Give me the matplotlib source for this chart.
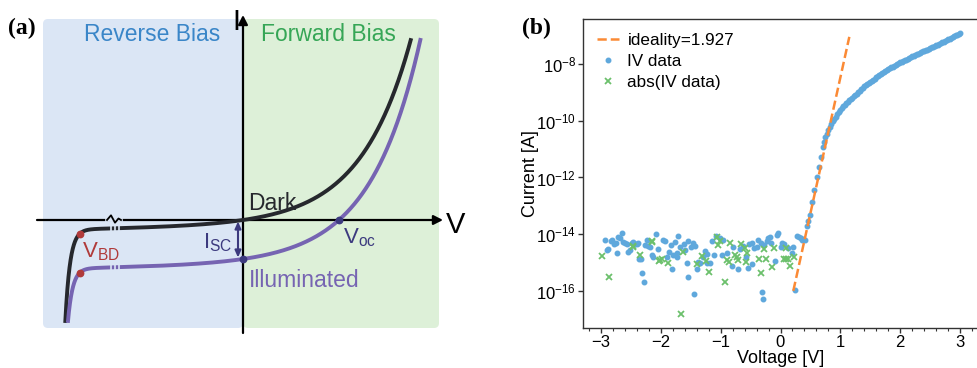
import matplotlib
matplotlib.use("Agg")

import numpy as np
import matplotlib.pyplot as plt
from matplotlib.patches import FancyBboxPatch
from matplotlib.ticker import MultipleLocator, NullLocator

plt.rcParams['font.family'] = ['Liberation Sans', 'DejaVu Sans']
plt.rcParams['mathtext.default'] = 'regular'

# ---------------------------------------------------------------------------
# panel (a): schematic diode curves (arbitrary units)
# ---------------------------------------------------------------------------
I_SAT = 6.4          # saturation current of the schematic diode
V_THERMAL = 50.0     # exponential scale of the forward branch
G_SHUNT = 0.0187     # small reverse slope
V_BD = -163.0        # breakdown onset
BD_AMP = 4.3
BD_WIDTH = 4.8
I_SC = 39.0          # photo current (illuminated offset)
I_TOP = 182.0
I_BOTTOM = -103.0
BREAK_V = [-132.5, -128.5, -124.5]

# ---------------------------------------------------------------------------
# panel (b): measured IV data, log10 of current
# ---------------------------------------------------------------------------
IDEALITY = 1.927
FIT_V = [0.214, 1.15]
FIT_LOG_I = [-16.0, -7.04]

# positive current, noise floor and turn-on (blue dots)
IV_V = [-2.935, -2.907, -2.879, -2.834, -2.812, -2.779, -2.756, -2.740, -2.712, -2.684,
        -2.656, -2.628, -2.600, -2.572, -2.545, -2.517, -2.489, -2.461, -2.433, -2.405,
        -2.389, -2.366, -2.333, -2.310, -2.288, -2.266, -2.238, -2.210, -2.182, -2.154,
        -2.127, -2.088, -2.054, -1.959, -1.932, -1.904, -1.865, -1.831, -1.809, -1.792,
        -1.764, -1.737, -1.725, -1.709, -1.681, -1.614, -1.597, -1.569, -1.552, -1.541,
        -1.502, -1.469, -1.447, -1.430, -1.391, -1.374, -1.346, -1.302, -1.263, -1.235,
        -1.224, -1.179, -1.151, -1.112, -1.079, -1.012, -0.984, -0.956, -0.889, -0.817,
        -0.789, -0.705, -0.677, -0.622, -0.577, -0.538, -0.521, -0.483, -0.471, -0.438,
        -0.399, -0.371, -0.326, -0.315, -0.287, -0.271, -0.232, -0.204, -0.176, -0.159,
        -0.092, -0.064, -0.037, 0.008, 0.030, 0.064, 0.119, 0.186, 0.214, 0.242,
        0.270, 0.309, 0.342, 0.365, 0.409, 0.437, 0.465, 0.493, 0.532, 0.565,
        0.605, 0.644, 0.672, 0.705]
IV_LOG_I = [-14.19, -14.56, -14.54, -14.23, -14.19, -14.33, -14.30, -14.66, -14.09, -14.15,
            -13.95, -14.27, -14.30, -14.33, -14.62, -14.56, -14.30, -14.27, -14.35, -14.33,
            -14.30, -14.86, -14.89, -15.36, -15.70, -14.39, -14.21, -14.42, -14.44, -14.74,
            -14.80, -14.00, -14.54, -14.19, -14.23, -14.80, -14.62, -14.39, -15.24, -14.74,
            -14.27, -14.68, -14.80, -14.07, -14.44, -14.35, -14.56, -15.01, -15.50, -14.23,
            -14.44, -14.30, -16.11, -14.42, -15.24, -14.97, -15.03, -14.80, -14.58, -14.70,
            -15.03, -15.01, -14.23, -14.74, -14.07, -14.15, -14.74, -14.21, -14.66, -15.13,
            -14.44, -15.24, -14.54, -14.42, -14.82, -15.21, -14.33, -14.30, -15.06, -14.50,
            -14.47, -14.19, -14.30, -16.03, -16.30, -14.39, -14.23, -14.15, -14.11, -14.30,
            -14.94, -14.03, -13.97, -14.44, -14.30, -14.35, -14.50, -14.66, -14.44, -15.97,
            -14.07, -14.11, -14.15, -14.19, -14.21, -13.71, -13.53, -13.33, -12.86, -12.44,
            -11.97, -11.62, -11.27, -10.92]

# positive current, dense forward branch (blue dots)
FWD_V = [0.725, 0.75, 0.775, 0.80, 0.825, 0.85, 0.875, 0.90, 0.925, 0.95,
         0.975, 1.00, 1.025, 1.05, 1.075, 1.10, 1.125, 1.15, 1.175, 1.20,
         1.225, 1.25, 1.275, 1.30, 1.325, 1.35, 1.375, 1.40, 1.425, 1.45,
         1.475, 1.50, 1.525, 1.55, 1.575, 1.60, 1.625, 1.65, 1.675, 1.70,
         1.725, 1.75, 1.775, 1.80, 1.825, 1.85, 1.875, 1.90, 1.925, 1.95,
         1.975, 2.00, 2.025, 2.05, 2.075, 2.10, 2.125, 2.15, 2.175, 2.20,
         2.225, 2.25, 2.275, 2.30, 2.325, 2.35, 2.375, 2.40, 2.425, 2.45,
         2.475, 2.50, 2.525, 2.55, 2.575, 2.60, 2.625, 2.65, 2.675, 2.70,
         2.725, 2.75, 2.775, 2.80, 2.825, 2.85, 2.875, 2.90, 2.925, 2.95,
         2.975, 3.00]
FWD_LOG_I = [-10.74, -10.58, -10.45, -10.33, -10.22, -10.11, -10.02, -9.93, -9.85, -9.77,
             -9.69, -9.61, -9.55, -9.49, -9.43, -9.38, -9.33, -9.28, -9.23, -9.19,
             -9.14, -9.09, -9.04, -8.99, -8.94, -8.89, -8.84, -8.79, -8.75, -8.71,
             -8.67, -8.63, -8.59, -8.55, -8.51, -8.47, -8.43, -8.40, -8.36, -8.33,
             -8.29, -8.26, -8.22, -8.19, -8.15, -8.12, -8.09, -8.06, -8.03, -8.00,
             -7.97, -7.94, -7.91, -7.89, -7.86, -7.84, -7.81, -7.79, -7.76, -7.73,
             -7.70, -7.68, -7.65, -7.63, -7.60, -7.58, -7.55, -7.53, -7.51, -7.49,
             -7.46, -7.44, -7.41, -7.39, -7.36, -7.34, -7.31, -7.29, -7.26, -7.23,
             -7.21, -7.18, -7.15, -7.12, -7.10, -7.07, -7.04, -7.01, -6.99, -6.96,
             -6.93, -6.90]

# negative current, plotted as abs (green crosses)
NEG_V = [-2.99, -2.868, -2.47, -2.461, -2.35, -2.143, -2.14, -2.03, -2.015, -1.987,
         -1.887, -1.670, -1.636, -1.402, -1.318, -1.246, -1.190, -1.068, -1.040, -1.012,
         -0.928, -0.900, -0.856, -0.845, -0.761, -0.733, -0.705, -0.666, -0.594, -0.577,
         -0.555, -0.360, -0.326, -0.271, -0.248, -0.137, -0.103, 0.064, 0.086, 0.100,
         0.119, 0.159, 0.231]
NEG_LOG_I = [-14.77, -15.50, -14.42, -14.47, -14.74, -14.23, -14.28, -14.95, -14.91, -14.86,
             -15.03, -16.82, -14.62, -15.06, -14.77, -14.94, -15.33, -14.09, -14.39, -14.23,
             -15.68, -14.91, -14.97, -14.30, -14.74, -14.80, -14.91, -14.35, -14.50, -14.97,
             -14.68, -14.86, -15.38, -14.54, -14.89, -15.17, -14.50, -14.89, -14.50, -14.89,
             -14.89, -15.13, -14.80]

# colours
BLUE_BG = '#dbe6f5'
GREEN_BG = '#ddf0d8'
DARK = '#26282d'
PURPLE = '#7664b2'
NAVY = '#3c3a7e'
RED = '#b03a3a'
BLUE = '#5fa8dc'
GREEN = '#6cc06c'
ORANGE = '#fb8a35'


def dark_current(v):
    return (I_SAT * (np.exp(v / V_THERMAL) - 1) + G_SHUNT * v
            - BD_AMP * np.exp((V_BD - v) / BD_WIDTH))


def light_current(v):
    return dark_current(v) - I_SC


def draw_schematic(ax):
    ax.set_xlim(-243, 217)
    ax.set_ylim(-148, 220)
    ax.axis('off')

    # shaded bias regions
    for x0, w, c in [(-200, 200, BLUE_BG), (0, 196, GREEN_BG)]:
        ax.add_patch(FancyBboxPatch((x0, -108), w, 309,
                                    boxstyle='round,pad=0,rounding_size=5',
                                    fc=c, ec='none', zorder=0))

    # axes with arrows
    arrow = dict(arrowstyle='-|>,head_length=0.55,head_width=0.28',
                 lw=1.6, color='k', shrinkA=0, shrinkB=0)
    ax.annotate('', xy=(200, 0), xytext=(-206, 0), arrowprops=arrow, zorder=2)
    ax.annotate('', xy=(0, 205), xytext=(0, -113), arrowprops=arrow, zorder=2)

    # break symbol on the V axis
    ax.plot([-136, -122], [0, 0], color=BLUE_BG, lw=2.6, zorder=2.5)
    ax.plot([-136, -132, -128, -124.5, -122], [0, 4.7, -2.7, 1.5, 0],
            color='k', lw=1.3, zorder=2.6)

    v = np.linspace(-190, 190, 6000)
    for func, color in [(dark_current, DARK), (light_current, PURPLE)]:
        cur = func(v)
        keep = (cur >= I_BOTTOM) & (cur <= I_TOP)
        ax.plot(v[keep], cur[keep], color=color, lw=2.8,
                solid_capstyle='butt', zorder=3)
        # gaps marking the broken axis
        for vb in BREAK_V:
            ib = func(vb)
            ax.plot([vb, vb], [ib - 4, ib + 4], color=BLUE_BG, lw=1.2,
                    solid_capstyle='butt', zorder=4)
        ax.plot(V_BD, func(V_BD), 'o', color=RED, ms=4.6, zorder=5)

    # Isc arrow and markers
    ax.annotate('', xy=(-5, light_current(0) + 1.5), xytext=(-5, -1.5),
                arrowprops=dict(arrowstyle='<|-|>,head_length=0.4,head_width=0.18',
                                lw=1.5, color=NAVY, shrinkA=0, shrinkB=0),
                zorder=4)
    ax.plot(0, light_current(0), 'o', color=NAVY, ms=4.6, zorder=5)
    vv = np.linspace(0, 150, 3000)
    v_oc = np.interp(0, light_current(vv), vv)
    ax.plot(v_oc, 0, 'o', color=NAVY, ms=4.6, zorder=5)

    ax.text(-159, 179, 'Reverse Bias', color='#3a86c8', fontsize=16.5)
    ax.text(18, 179, 'Forward Bias', color='#36a656', fontsize=16.5)
    ax.text(5, 10, 'Dark', color=DARK, fontsize=16.5)
    ax.text(6, -67, 'Illuminated', color=PURPLE, fontsize=16.5)
    ax.text(-161, -37, r'V$_{BD}$', color=RED, fontsize=16)
    ax.text(-11, -28, r'I$_{SC}$', color=NAVY, fontsize=16, ha='right')
    ax.text(v_oc + 4, -23, r'V$_{oc}$', color=NAVY, fontsize=16)
    ax.text(-11, 190, 'I', fontsize=21)
    ax.text(203, -13, 'V', fontsize=21)


def draw_iv(ax):
    ax.plot(FIT_V, 10 ** np.array(FIT_LOG_I), '--', color=ORANGE, lw=1.8,
            label='ideality=%.3f' % IDEALITY, zorder=4)
    pos_v = IV_V + FWD_V
    pos_i = 10 ** np.array(IV_LOG_I + FWD_LOG_I)
    ax.plot(pos_v, pos_i, '.', color=BLUE, ms=6.5,
            ls='none', label='IV data', zorder=3)
    ax.plot(NEG_V, 10 ** np.array(NEG_LOG_I), 'x', color=GREEN, ms=5,
            mew=1.3, ls='none', label='abs(IV data)', zorder=3)

    ax.set_yscale('log')
    ax.set_xlim(-3.3, 3.3)
    ax.set_ylim(10 ** -17.31, 10 ** -6.41)
    ax.set_yticks([1e-16, 1e-14, 1e-12, 1e-10, 1e-8])
    ax.yaxis.set_minor_locator(NullLocator())
    ax.xaxis.set_major_locator(MultipleLocator(1))
    ax.xaxis.set_minor_locator(MultipleLocator(0.2))
    ax.tick_params(which='major', direction='out', length=3.5, width=1,
                   labelsize=12, pad=1.5, color='#333333')
    ax.tick_params(which='minor', direction='out', length=2, width=0.8,
                   color='#333333')
    for sp in ax.spines.values():
        sp.set_color('#333333')
        sp.set_linewidth(1.0)

    ax.set_xlabel('Voltage [V]', fontsize=13, labelpad=0)
    ax.set_ylabel('Current [A]', fontsize=13, labelpad=-2)
    ax.legend(loc='upper left', frameon=False, fontsize=12.3,
              handlelength=1.3, handletextpad=0.5, labelspacing=0.35,
              borderaxespad=0.4)


fig = plt.figure(figsize=(9.77, 3.68), dpi=100)

ax_a = fig.add_axes([0, 0, 460 / 977., 1])
draw_schematic(ax_a)

ax_b = fig.add_axes([583 / 977., 40 / 368., 395 / 977., 309 / 368.])
draw_iv(ax_b)

for x, lab in [(22, '(a)'), (536, '(b)')]:
    fig.text(x / 977., 1 - 28 / 368., lab, ha='center', va='center',
             fontsize=17, fontweight='bold', family='Liberation Serif')

fig.savefig('out.png', dpi=100)
